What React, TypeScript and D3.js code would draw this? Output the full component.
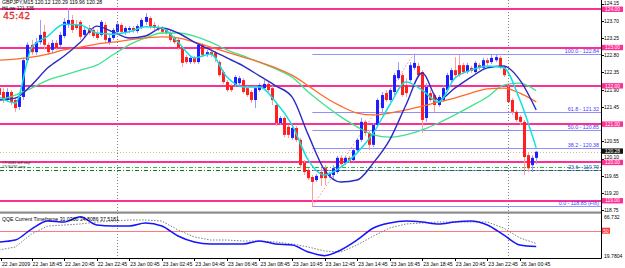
import React, { useEffect, useRef } from "react";
import * as d3 from "d3";

// ── Candles GBPJPY M15 (22 Jan 16:45 → 26 Jan 01:45) ─────────────────────
const OPEN = [121.94, 121.84, 121.63, 121.84, 121.63, 121.45, 121.71, 122.67, 123.07, 122.88, 123.14, 123.41, 123.07, 122.94, 123.12, 123.07, 123.30, 123.59, 123.72, 123.59, 123.67, 123.33, 123.51, 123.46, 123.38, 123.33, 123.59, 123.14, 123.25, 123.41, 123.59, 123.38, 123.46, 123.51, 123.43, 123.54, 123.67, 123.77, 123.59, 123.54, 123.51, 123.46, 123.38, 123.25, 123.20, 122.99, 122.75, 122.62, 122.73, 122.62, 123.07, 122.81, 122.88, 122.86, 122.62, 122.36, 122.10, 122.00, 122.02, 122.07, 122.15, 121.94, 121.84, 121.63, 121.89, 121.94, 122.05, 121.94, 121.50, 121.03, 121.16, 120.93, 120.64, 120.90, 120.59, 119.99, 119.80, 119.62, 119.54, 119.75, 119.85, 119.65, 119.67, 119.75, 120.12, 119.99, 120.12, 120.06, 120.32, 120.59, 121.06, 120.77, 120.46, 120.98, 121.42, 121.81, 121.63, 121.84, 122.20, 122.28, 122.02, 122.15, 122.47, 122.52, 122.36, 121.16, 121.81, 121.76, 121.50, 121.63, 121.89, 122.15, 122.41, 122.54, 122.54, 122.36, 122.47, 122.36, 122.54, 122.47, 122.67, 122.62, 122.67, 122.73, 122.49, 121.97, 121.63, 121.32, 121.19, 121.06, 120.19, 119.93, 120.12];
const HIGH = [122.02, 121.94, 121.94, 121.89, 121.71, 121.76, 122.73, 123.14, 123.20, 123.25, 123.72, 123.59, 123.14, 123.20, 123.20, 123.41, 123.77, 124.03, 123.85, 123.72, 123.72, 123.54, 123.59, 123.51, 123.46, 123.72, 123.67, 123.33, 123.51, 123.67, 123.64, 123.56, 123.56, 123.56, 123.61, 123.77, 123.90, 123.82, 123.67, 123.59, 123.56, 123.51, 123.43, 123.30, 123.25, 123.04, 122.81, 122.78, 122.78, 123.09, 123.12, 122.94, 122.94, 122.91, 122.67, 122.41, 122.15, 122.05, 122.28, 122.26, 122.20, 122.00, 121.89, 122.00, 122.07, 122.15, 122.10, 122.00, 121.55, 121.21, 121.21, 120.98, 120.95, 120.95, 120.64, 120.06, 119.85, 119.67, 119.70, 119.85, 119.93, 119.75, 119.93, 120.17, 120.19, 120.17, 120.17, 120.38, 120.64, 121.16, 121.11, 120.85, 121.03, 121.68, 121.84, 121.89, 121.94, 122.34, 122.62, 122.34, 122.20, 122.62, 122.84, 122.60, 122.41, 122.07, 121.89, 121.81, 121.76, 122.00, 122.34, 122.47, 122.75, 122.81, 122.60, 122.60, 122.52, 122.65, 122.60, 122.73, 122.73, 122.81, 122.81, 122.78, 122.54, 122.00, 121.68, 121.37, 121.24, 121.11, 120.27, 120.19, 120.29];
const LOW = [121.71, 121.55, 121.58, 121.50, 121.32, 121.37, 121.63, 122.60, 122.81, 122.81, 123.07, 122.94, 122.81, 122.86, 122.94, 122.99, 123.25, 123.51, 123.38, 123.46, 123.20, 123.25, 123.33, 123.25, 123.20, 123.28, 123.12, 123.07, 123.20, 123.35, 123.35, 123.33, 123.38, 123.38, 123.38, 123.48, 123.59, 123.48, 123.46, 123.43, 123.35, 123.33, 123.14, 123.09, 122.94, 122.49, 122.57, 122.57, 122.57, 122.57, 122.75, 122.75, 122.75, 122.62, 122.23, 122.05, 121.84, 121.84, 121.97, 122.02, 121.79, 121.71, 121.55, 121.42, 121.84, 121.89, 121.84, 121.50, 120.95, 120.98, 120.66, 120.64, 120.59, 120.53, 119.85, 119.67, 119.54, 118.85, 119.49, 119.39, 119.41, 119.59, 119.54, 119.70, 119.91, 119.93, 119.99, 120.01, 120.27, 120.53, 120.69, 120.32, 120.40, 120.93, 121.32, 121.58, 121.58, 121.76, 122.15, 121.71, 121.71, 122.10, 122.41, 122.23, 120.77, 121.06, 121.58, 121.32, 121.45, 121.58, 121.84, 122.10, 122.23, 122.23, 122.31, 122.31, 122.34, 122.31, 122.41, 122.41, 122.54, 122.57, 122.62, 122.44, 122.23, 121.55, 121.24, 121.06, 120.98, 119.67, 119.75, 119.75, 119.96];
const CLOSE = [121.76, 121.63, 121.84, 121.58, 121.42, 121.71, 122.67, 123.07, 122.88, 123.14, 123.33, 123.07, 122.88, 123.12, 122.99, 123.33, 123.67, 123.72, 123.46, 123.51, 123.28, 123.46, 123.38, 123.30, 123.25, 123.67, 123.20, 123.25, 123.46, 123.61, 123.41, 123.51, 123.51, 123.43, 123.56, 123.72, 123.80, 123.54, 123.51, 123.48, 123.41, 123.38, 123.20, 123.14, 122.99, 122.60, 122.62, 122.73, 122.62, 123.07, 122.81, 122.88, 122.81, 122.73, 122.28, 122.10, 121.89, 121.89, 122.23, 122.20, 121.84, 121.76, 121.63, 121.94, 122.02, 122.05, 121.89, 121.63, 121.03, 121.16, 120.72, 120.72, 120.90, 120.59, 119.93, 119.75, 119.59, 119.49, 119.65, 119.59, 119.59, 119.70, 119.85, 120.12, 119.96, 120.12, 120.04, 120.32, 120.59, 121.06, 120.77, 120.46, 120.98, 121.63, 121.76, 121.63, 121.89, 122.28, 122.41, 121.76, 121.81, 122.54, 122.60, 122.28, 121.11, 121.97, 121.63, 121.50, 121.71, 121.94, 122.28, 122.41, 122.28, 122.28, 122.36, 122.54, 122.39, 122.60, 122.47, 122.67, 122.60, 122.73, 122.75, 122.49, 122.28, 121.58, 121.32, 121.11, 121.06, 120.14, 119.85, 120.12, 120.28];

// ── Moving averages, one value every 4 bars ───────────────────────────────
const MA_STEP = 4;
const MA_CYAN = [121.71, 121.55, 122.99, 123.30, 123.61, 123.59, 123.38, 123.35, 123.41, 123.54, 123.51, 123.14, 122.73, 122.83, 122.23, 121.97, 121.97, 121.58, 120.98, 120.06, 119.67, 119.88, 120.25, 120.77, 121.50, 122.10, 121.89, 121.58, 122.20, 122.41, 122.52, 122.47, 121.63, 120.38];
const MA_BLUE = [121.63, 121.68, 122.02, 122.47, 122.78, 123.14, 123.56, 123.41, 123.25, 123.30, 123.51, 123.38, 123.14, 122.94, 122.73, 122.52, 122.26, 122.00, 121.71, 120.72, 119.80, 119.49, 119.54, 119.99, 120.59, 121.50, 122.34, 121.63, 121.94, 122.23, 122.47, 122.52, 122.15, 121.37];
const MA_ORANGE = [122.67, 122.70, 122.75, 122.83, 122.94, 123.01, 123.09, 123.14, 123.20, 123.25, 123.28, 123.25, 123.14, 123.01, 122.88, 122.75, 122.62, 122.47, 122.28, 122.00, 121.71, 121.47, 121.29, 121.24, 121.29, 121.37, 121.47, 121.58, 121.68, 121.81, 121.92, 121.94, 121.81, 121.58];
const MA_GREEN = [121.63, 121.76, 121.94, 122.15, 122.28, 122.41, 122.54, 122.81, 123.07, 123.25, 123.38, 123.38, 123.30, 123.14, 122.94, 122.78, 122.62, 122.44, 122.23, 121.84, 121.50, 121.19, 120.93, 120.72, 120.66, 120.72, 120.85, 121.03, 121.24, 121.47, 121.71, 122.02, 122.07, 121.87];

// ── QQE indicator, one value every 4 bars ─────────────────────────────────
const QQE_RSI = [36.5, 38.9, 52.0, 61.6, 60.4, 66.7, 56.8, 55.6, 55.6, 59.2, 55.6, 43.7, 36.5, 34.1, 34.1, 34.1, 37.7, 34.1, 32.9, 24.6, 20.2, 27.0, 38.9, 53.2, 59.2, 61.6, 60.4, 58.0, 60.4, 61.6, 56.8, 44.9, 32.9, 31.03];
const QQE_SLOW = [26.95, 30.53, 46.06, 55.62, 56.81, 58.01, 60.40, 61.59, 62.79, 62.79, 61.59, 50.84, 42.48, 38.89, 38.89, 37.70, 37.70, 36.50, 34.11, 30.53, 25.75, 24.56, 32.92, 43.67, 53.23, 58.01, 59.20, 60.40, 60.40, 60.40, 60.40, 53.23, 41.28, 34.81];
const QQE_RANGE = [19.7804, 66.732];
const QQE_LEVEL = 50;

// ── Levels and labels ─────────────────────────────────────────────────────
const PINK_LEVELS = [124, 123, 122, 121, 120, 119];
const FIB_NAMES = ["0.0", "23.6", "38.2", "50.0", "61.8", "100.0"];
const FIB_PRICES = [118.85, 119.79, 120.38, 120.85, 121.32, 122.84];
const FIB_BARS = [77, 102];
const ORDER_LINES = [119.87, 119.81];
const ORDER_TEXTS = ["#7/:0041 sell stop", "#7/:S0/S1 stop"];
const PRICE_TICKS = [124.15, 123.7, 123.25, 122.8, 122.35, 121.9, 121.45, 121.0, 120.55, 120.1, 119.65, 119.2, 118.75];
const TIME_LABELS = ["22 Jan 2009", "22 Jan 18:45", "22 Jan 20:45", "22 Jan 22:45", "23 Jan 00:45", "23 Jan 02:45", "23 Jan 04:45", "23 Jan 06:45", "23 Jan 08:45", "23 Jan 10:45", "23 Jan 12:45", "23 Jan 14:45", "23 Jan 16:45", "23 Jan 18:45", "23 Jan 20:45", "23 Jan 22:45", "26 Jan 00:45"];
const TIME_STEP = 8;
const DAY_BREAKS = [29, 125];

const FONT = "Liberation Sans, Arial, sans-serif";

const App: React.FC = () => {
    const svgRef = useRef<SVGSVGElement | null>(null);

    useEffect(() => {
        if (!svgRef.current) return;
        const W = 625, H = 268;
        const R = 601;          // right edge of plot
        const MAIN_B = 211;     // bottom of price panel
        const BOT = 258;        // bottom of indicator panel
        const crisp = (v: number) => Math.round(v) + 0.5;

        const svg = d3.select(svgRef.current);
        svg.selectAll("*").remove();
        svg.append("rect").attr("width", W).attr("height", H).attr("fill", "#fff");

        // ── Escalas ────────────────────────────────────────────────────────
        const x = d3.scaleLinear().domain([0, 132]).range([-1, 536.2]);
        const y = d3.scaleLinear().domain([118.732, 124.2414]).range([MAIN_B, 0]);
        const yq = d3.scaleLinear().domain(QQE_RANGE).range([256, 216.7]);

        const main = svg.append("g");

        // ── Bid line and day separators ─────────────────────────────────────
        main.append("line")
            .attr("x1", 0).attr("x2", R)
            .attr("y1", crisp(y(CLOSE[CLOSE.length - 1]))).attr("y2", crisp(y(CLOSE[CLOSE.length - 1])))
            .attr("stroke", "#d9b98a").attr("stroke-dasharray", "1,2");

        DAY_BREAKS.forEach((b) => {
            svg.append("line")
                .attr("x1", crisp(x(b))).attr("x2", crisp(x(b)))
                .attr("y1", 0).attr("y2", BOT)
                .attr("stroke", "#808080").attr("stroke-dasharray", "1,2");
        });

        // ── Pink round-number levels ────────────────────────────────────────
        PINK_LEVELS.forEach((p) => {
            main.append("line")
                .attr("x1", 0).attr("x2", R)
                .attr("y1", Math.round(y(p))).attr("y2", Math.round(y(p)))
                .attr("stroke", "#ff2e93").attr("stroke-width", 2);
        });

        // ── Fibonacci ──────────────────────────────────────────────────────
        FIB_PRICES.forEach((p, k) => {
            const yy = crisp(y(p));
            main.append("line")
                .attr("x1", x(FIB_BARS[0])).attr("x2", R)
                .attr("y1", yy).attr("y2", yy)
                .attr("stroke", "#8f8fff");
            main.append("text")
                .attr("x", 599).attr("y", yy - 1.5)
                .attr("text-anchor", "end")
                .attr("font-family", FONT).attr("font-size", 5.3)
                .attr("fill", "#3c3cff")
                .text(`${FIB_NAMES[k]} - ${p.toFixed(2)}${k === 0 ? " (Fib)" : ""}`);
        });
        main.append("line")
            .attr("x1", x(FIB_BARS[0])).attr("y1", y(FIB_PRICES[0]))
            .attr("x2", x(FIB_BARS[1])).attr("y2", y(FIB_PRICES[FIB_PRICES.length - 1]))
            .attr("stroke", "#ff8a8a").attr("stroke-dasharray", "1.5,2");

        // ── Pending order lines ─────────────────────────────────────────────
        ORDER_LINES.forEach((p, k) => {
            main.append("line")
                .attr("x1", 0).attr("x2", R)
                .attr("y1", crisp(y(p))).attr("y2", crisp(y(p)))
                .attr("stroke", k === 0 ? "#22bb44" : "#1d6b2a")
                .attr("stroke-dasharray", "4,2,1,2");
        });
        ORDER_TEXTS.forEach((t, k) => {
            main.append("text")
                .attr("x", 2).attr("y", 164 + k * 3.6)
                .attr("font-family", FONT).attr("font-size", 3.6)
                .attr("fill", "#333")
                .text(t);
        });

        // ── Candles ────────────────────────────────────────────────────────
        const idx = d3.range(OPEN.length);
        const up = (i: number) => CLOSE[i] >= OPEN[i];
        main.selectAll(".wick").data(idx).enter().append("line")
            .attr("x1", (i) => crisp(x(i))).attr("x2", (i) => crisp(x(i)))
            .attr("y1", (i) => y(HIGH[i])).attr("y2", (i) => y(LOW[i]))
            .attr("stroke", (i) => (up(i) ? "#9a9aff" : "#ff9c9c"));
        main.selectAll(".body").data(idx).enter().append("rect")
            .attr("x", (i) => Math.round(x(i)) - 1)
            .attr("width", 3)
            .attr("y", (i) => y(Math.max(OPEN[i], CLOSE[i])))
            .attr("height", (i) => Math.max(1, Math.abs(y(OPEN[i]) - y(CLOSE[i]))))
            .attr("fill", (i) => (up(i) ? "#1e1eff" : "#ff2020"));

        // ── Moving averages ────────────────────────────────────────────────
        const maLine = d3.line<number>()
            .x((_, k) => x(k * MA_STEP))
            .y((d) => y(d))
            .curve(d3.curveMonotoneX);
        const mas: [number[], string, number][] = [
            [MA_GREEN, "#3ee38a", 1.3],
            [MA_ORANGE, "#ff6a2a", 1.3],
            [MA_BLUE, "#2b2bc4", 1.4],
            [MA_CYAN, "#12e0e0", 1.5],
        ];
        mas.forEach(([data, color, w]) => {
            main.append("path").datum(data)
                .attr("fill", "none").attr("stroke", color).attr("stroke-width", w)
                .attr("d", maLine);
        });

        // ── Panel separator ────────────────────────────────────────────────
        svg.append("rect").attr("x", 0).attr("y", 211.5).attr("width", R).attr("height", 2.2).attr("fill", "#8c8c8c");

        // ── QQE ────────────────────────────────────────────────────────────
        const ind = svg.append("g");
        ind.append("line")
            .attr("x1", 0).attr("x2", R)
            .attr("y1", crisp(yq(QQE_LEVEL))).attr("y2", crisp(yq(QQE_LEVEL)))
            .attr("stroke", "#ff7b7b");
        const qLine = d3.line<number>().x((_, k) => x(k * MA_STEP)).y((d) => yq(d));
        ind.append("path").datum(QQE_SLOW)
            .attr("fill", "none").attr("stroke", "#6f6f6f").attr("stroke-width", 0.9)
            .attr("stroke-dasharray", "1.5,1.5")
            .attr("d", qLine);
        ind.append("path").datum(QQE_RSI)
            .attr("fill", "none").attr("stroke", "#1414ff").attr("stroke-width", 1.5)
            .attr("d", qLine.curve(d3.curveMonotoneX));
        ind.append("text")
            .attr("x", 2).attr("y", 221)
            .attr("font-family", FONT).attr("font-size", 5.2).attr("fill", "#000")
            .text(`QQE Current Timeframe ${QQE_RSI[QQE_RSI.length - 1].toFixed(4)} 34.8086 37.5181`);

        // ── Frame ──────────────────────────────────────────────────────────
        svg.append("line").attr("x1", R + 0.5).attr("x2", R + 0.5).attr("y1", 0).attr("y2", BOT + 0.5).attr("stroke", "#000");
        svg.append("line").attr("x1", 0).attr("x2", R + 0.5).attr("y1", BOT + 0.5).attr("y2", BOT + 0.5).attr("stroke", "#000");

        // ── Price axis ─────────────────────────────────────────────────────
        const last = CLOSE[CLOSE.length - 1];
        const BOX_H = 5.4;
        const boxTops = [...PINK_LEVELS, last].map((p) => y(p) - BOX_H / 2);
        PRICE_TICKS.forEach((p) => {
            const yy = crisp(y(p));
            // keep the tick text clear of a label box just below it
            const below = boxTops.filter((t) => t > yy - 1 && t < yy + 4);
            const base = below.length ? Math.min(yy + 1.7, Math.min(...below) - 1.2) : yy + 1.7;
            svg.append("line").attr("x1", R).attr("x2", R + 3).attr("y1", yy).attr("y2", yy).attr("stroke", "#000");
            svg.append("text")
                .attr("x", 604).attr("y", base)
                .attr("font-family", FONT).attr("font-size", 4.9).attr("fill", "#000")
                .text(p.toFixed(2));
        });
        PINK_LEVELS.forEach((p) => {
            const yy = y(p);
            svg.append("rect").attr("x", 602).attr("y", yy - BOX_H / 2).attr("width", 21).attr("height", BOX_H).attr("fill", "#ff2e93");
            svg.append("text")
                .attr("x", 612.5).attr("y", yy + 1.7).attr("text-anchor", "middle")
                .attr("font-family", FONT).attr("font-size", 4.9).attr("fill", "#fff")
                .text(p.toFixed(2));
        });
        svg.append("rect").attr("x", 602).attr("y", y(last) - BOX_H / 2 - 0.6).attr("width", 21).attr("height", BOX_H).attr("fill", "#111");
        svg.append("text")
            .attr("x", 612.5).attr("y", y(last) + 1.1).attr("text-anchor", "middle")
            .attr("font-family", FONT).attr("font-size", 4.9).attr("fill", "#fff")
            .text(last.toFixed(2));

        // ── Indicator axis ─────────────────────────────────────────────────
        [[QQE_RANGE[1], "66.732"], [QQE_RANGE[0], "19.7804"]].forEach(([v, t]) => {
            svg.append("text")
                .attr("x", 604).attr("y", yq(v as number) + 2)
                .attr("font-family", FONT).attr("font-size", 5.1).attr("fill", "#000")
                .text(t as string);
        });
        svg.append("rect").attr("x", 602).attr("y", yq(QQE_LEVEL) - 3).attr("width", 8).attr("height", 6).attr("fill", "#ff3b3b");
        svg.append("text")
            .attr("x", 606).attr("y", yq(QQE_LEVEL) + 1.8).attr("text-anchor", "middle")
            .attr("font-family", FONT).attr("font-size", 4.8).attr("fill", "#fff")
            .text(String(QQE_LEVEL));

        // ── Time axis ──────────────────────────────────────────────────────
        TIME_LABELS.forEach((t, k) => {
            const xx = Math.max(1, x(k * TIME_STEP));
            svg.append("line").attr("x1", crisp(xx)).attr("x2", crisp(xx)).attr("y1", BOT).attr("y2", BOT + 3).attr("stroke", "#000");
            svg.append("text")
                .attr("x", xx + 1).attr("y", 266)
                .attr("font-family", FONT).attr("font-size", 5.1).attr("fill", "#000")
                .text(t);
        });

        // ── Header ─────────────────────────────────────────────────────────
        const i = CLOSE.length - 1;
        svg.append("text")
            .attr("x", 2).attr("y", 4.3)
            .attr("font-family", FONT).attr("font-size", 5.2).attr("fill", "#000")
            .text(`GBPJPY,M15 ${OPEN[i].toFixed(2)} ${HIGH[i].toFixed(2)} ${LOW[i].toFixed(2)} ${CLOSE[i].toFixed(2)}`);
        svg.append("text")
            .attr("x", 2).attr("y", 9.6)
            .attr("font-family", FONT).attr("font-size", 4.8).attr("fill", "#000")
            .text("HiLow 121.335");
        svg.append("text")
            .attr("x", 3).attr("y", 18.5)
            .attr("font-family", "DejaVu Sans, sans-serif").attr("font-size", 9.5)
            .attr("fill", "#ff4a4a").attr("stroke", "#d01818").attr("stroke-width", 0.3)
            .text("45:42");
    }, []);

    return (
        <svg
            ref={svgRef}
            width={625}
            height={268}
            style={{ position: "absolute", left: 0, top: 0, display: "block" }}
        />
    );
};

export default App;
